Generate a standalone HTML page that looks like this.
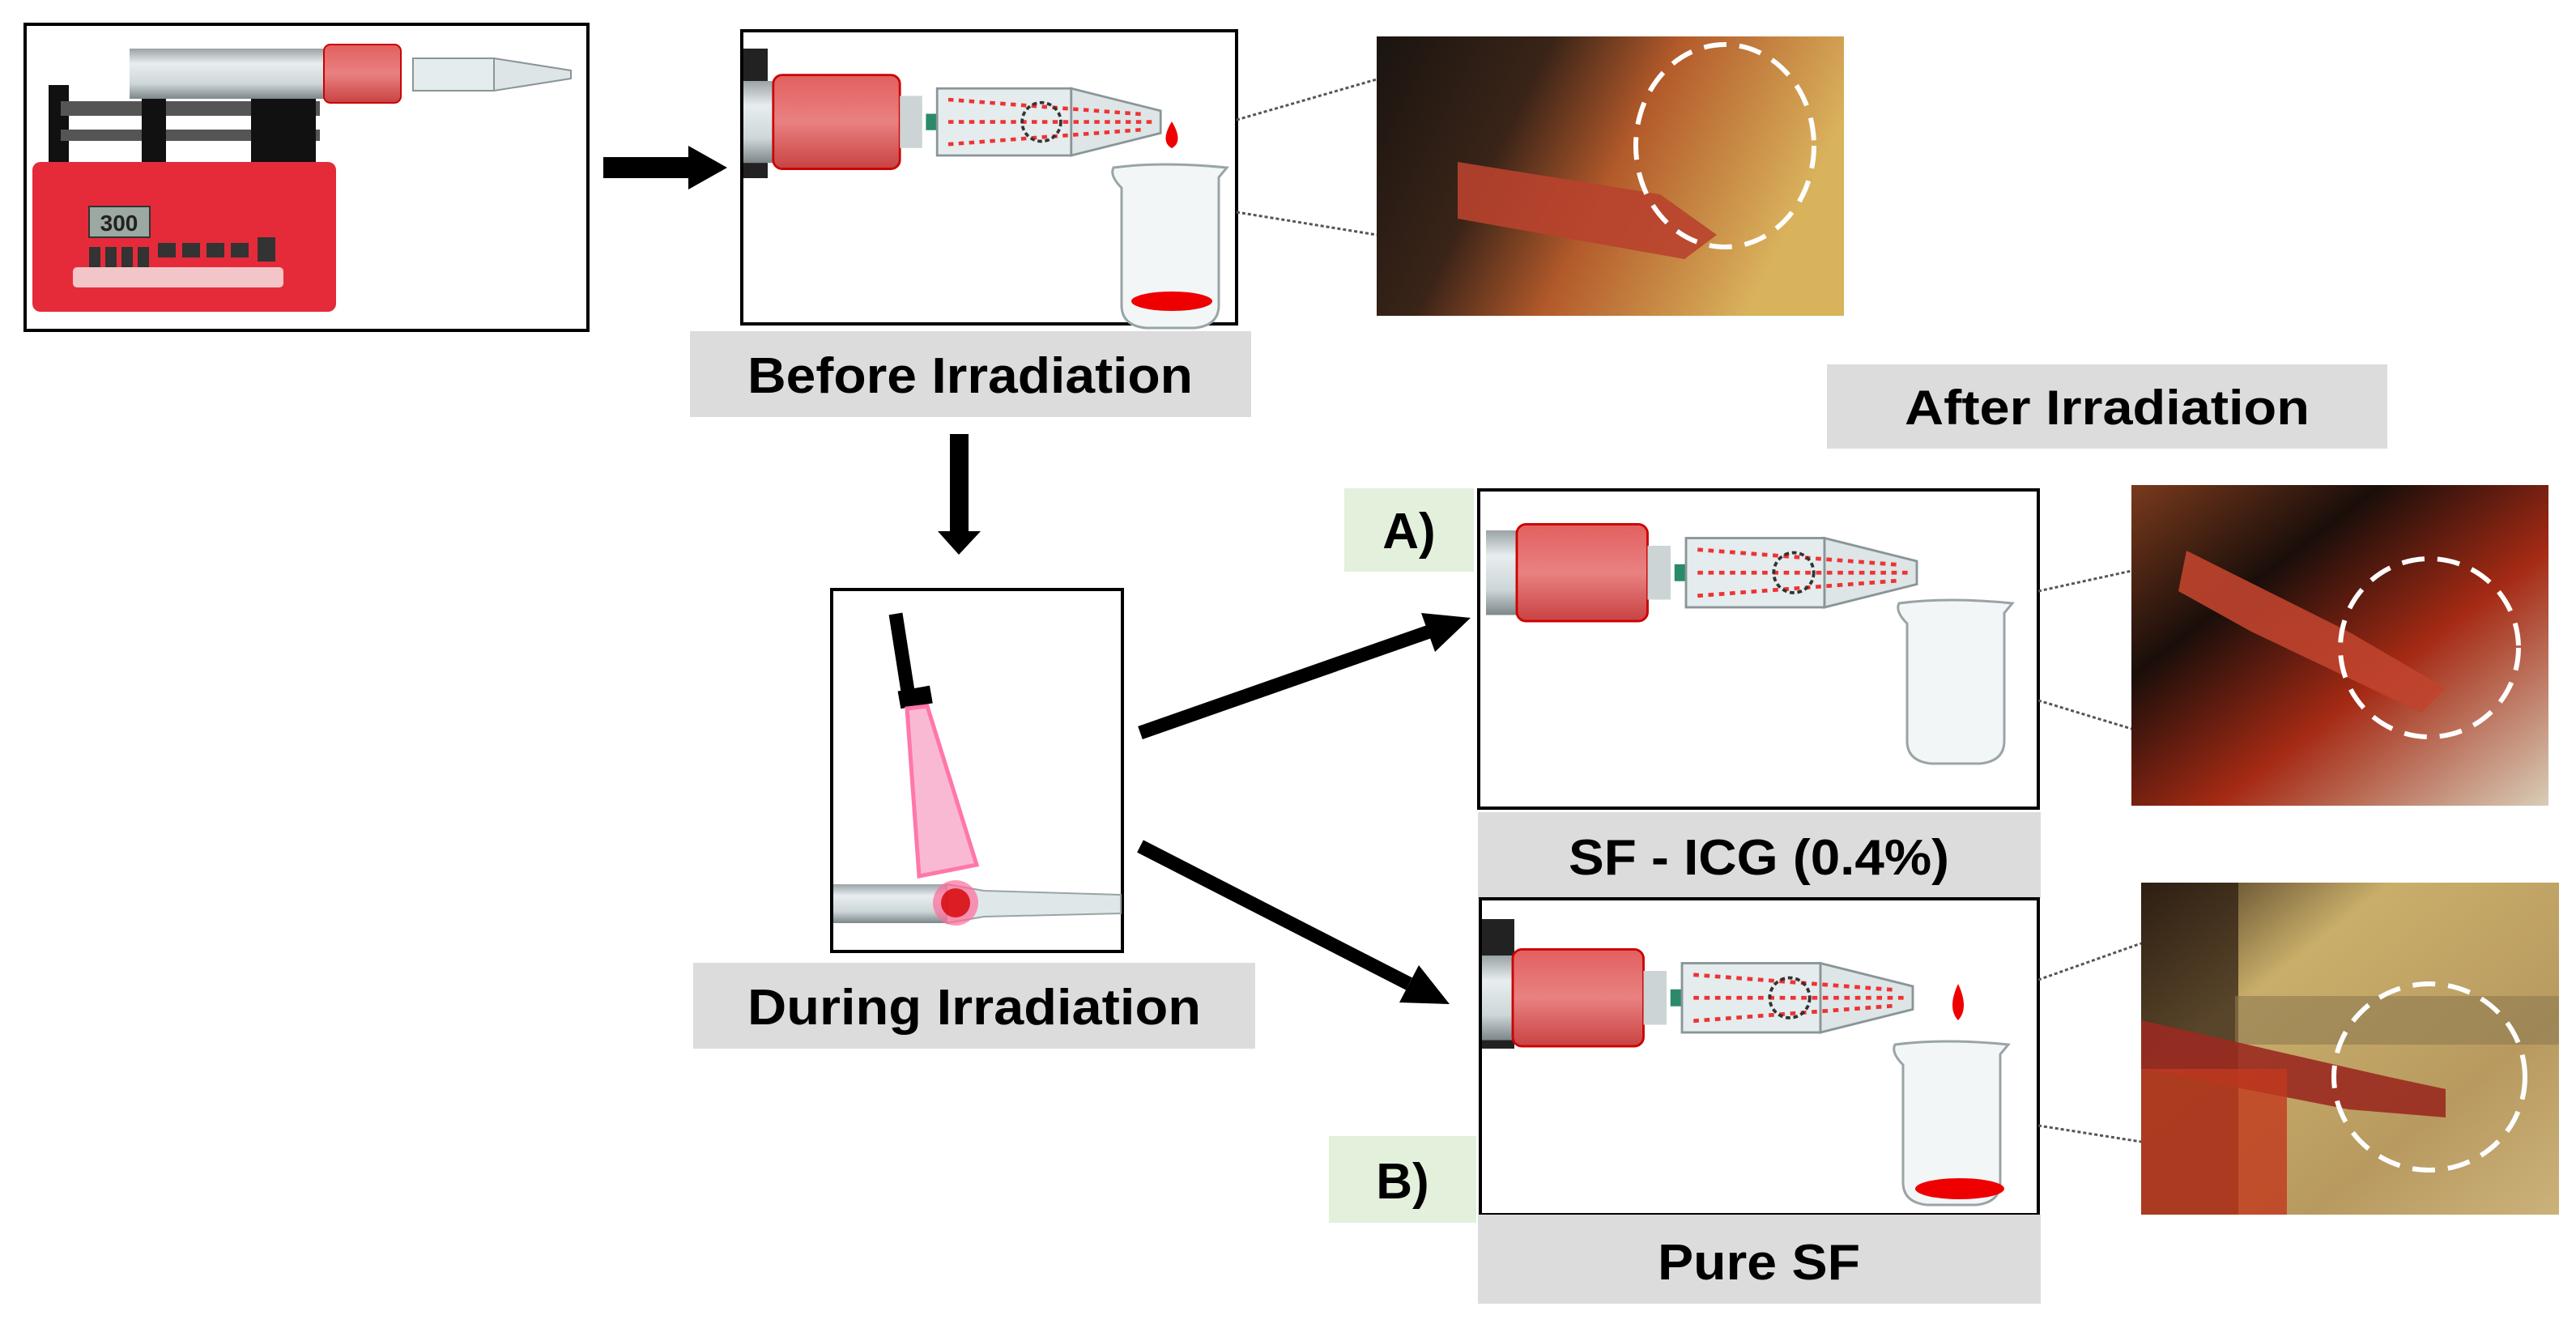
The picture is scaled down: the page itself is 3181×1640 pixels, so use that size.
<!DOCTYPE html>
<html><head><meta charset="utf-8"><style>
html,body{margin:0;padding:0;background:#fff;}
svg{display:block;}
text{font-family:"Liberation Sans",Arial,sans-serif;font-weight:bold;}
</style></head><body>
<svg width="3181" height="1640" viewBox="0 0 3181 1640" xmlns="http://www.w3.org/2000/svg">
<defs>
<linearGradient id="glass" x1="0" y1="0" x2="0" y2="1"><stop offset="0" stop-color="#9aa3a6"/><stop offset="0.3" stop-color="#e8eef0"/><stop offset="0.7" stop-color="#cdd6d8"/><stop offset="1" stop-color="#7d878a"/></linearGradient>
<linearGradient id="red" x1="0" y1="0" x2="0" y2="1"><stop offset="0" stop-color="#e2605f"/><stop offset="0.5" stop-color="#e98181"/><stop offset="1" stop-color="#c94242"/></linearGradient>
<linearGradient id="p1" x1="0" y1="0" x2="1" y2="0.3"><stop offset="0" stop-color="#1a1410"/><stop offset="0.35" stop-color="#3a2418"/><stop offset="0.6" stop-color="#b35a2a"/><stop offset="1" stop-color="#d9b25c"/></linearGradient>
<linearGradient id="p2" x1="0" y1="0" x2="1" y2="1"><stop offset="0" stop-color="#7a3a1c"/><stop offset="0.3" stop-color="#1a0e0a"/><stop offset="0.6" stop-color="#a52a14"/><stop offset="1" stop-color="#d8cdb8"/></linearGradient>
<linearGradient id="p3" x1="0" y1="0" x2="1" y2="1"><stop offset="0" stop-color="#3a2a18"/><stop offset="0.3" stop-color="#c9ae6a"/><stop offset="0.7" stop-color="#b89a60"/><stop offset="1" stop-color="#cbb27a"/></linearGradient>
<g id="syr">
  <rect x="0" y="0" width="150" height="110" fill="url(#glass)"/>
  <rect x="40" y="-8" width="170" height="126" rx="12" fill="url(#red)" stroke="#c00" stroke-width="3"/>
  <rect x="210" y="20" width="30" height="70" fill="#ccd4d6"/>
  <rect x="245" y="44" width="30" height="22" fill="#2a8a6a"/>
  <rect x="260" y="10" width="180" height="90" fill="#e4ecee" stroke="#8a9598" stroke-width="3"/>
  <path d="M440 10 L560 40 L560 70 L440 100 Z" fill="#dde5e7" stroke="#8a9598" stroke-width="3"/>
  <g stroke="#e33" stroke-width="5" stroke-dasharray="7,7"><line x1="275" y1="25" x2="540" y2="45"/><line x1="275" y1="55" x2="555" y2="55"/><line x1="275" y1="85" x2="540" y2="65"/></g>
  <circle cx="400" cy="55" r="26" fill="none" stroke="#333" stroke-width="4" stroke-dasharray="6,4"/>
</g>
<g id="beaker">
  <path d="M0 0 Q60 -8 140 0 L130 12 L130 170 Q130 195 100 198 L40 198 Q10 195 10 170 L10 25 Q-5 10 0 0 Z" fill="#f2f6f7" stroke="#9aa4a6" stroke-width="3"/>
</g>
</defs>

<!-- Box 1: syringe pump -->
<rect x="31" y="30" width="695" height="378" fill="#fff" stroke="#000" stroke-width="4"/>
<rect x="60" y="105" width="25" height="95" fill="#111"/>
<rect x="75" y="125" width="320" height="18" fill="#555"/>
<rect x="75" y="160" width="320" height="14" fill="#555"/>
<rect x="175" y="120" width="30" height="85" fill="#111"/>
<rect x="310" y="115" width="80" height="95" fill="#111"/>
<g transform="translate(160,60)"><rect x="0" y="0" width="240" height="62" fill="url(#glass)"/><rect x="240" y="-5" width="95" height="72" rx="8" fill="url(#red)" stroke="#c00" stroke-width="2"/><rect x="350" y="12" width="100" height="40" fill="#e4ecee" stroke="#8a9598" stroke-width="2"/><path d="M450 12 L545 27 L545 37 L450 52 Z" fill="#dde5e7" stroke="#8a9598" stroke-width="2"/></g>
<rect x="40" y="200" width="375" height="185" rx="10" fill="#e52b3a"/>
<rect x="110" y="255" width="75" height="38" fill="#9ca8a2" stroke="#333" stroke-width="2"/>
<text x="147" y="285" font-size="28" text-anchor="middle" fill="#222">300</text>
<g fill="#333"><rect x="110" y="305" width="14" height="30"/><rect x="130" y="305" width="14" height="30"/><rect x="150" y="305" width="14" height="30"/><rect x="170" y="305" width="14" height="30"/><rect x="195" y="300" width="22" height="18"/><rect x="225" y="300" width="22" height="18"/><rect x="255" y="300" width="22" height="18"/><rect x="285" y="300" width="22" height="18"/><rect x="318" y="293" width="22" height="30"/></g>
<rect x="90" y="330" width="260" height="25" rx="5" fill="#f3c5c8"/>

<!-- arrow right -->
<rect x="745" y="194" width="110" height="26" fill="#000"/>
<polygon points="850,180 898,207 850,234" fill="#000"/>

<!-- Box 2 -->
<rect x="916" y="38" width="611" height="362" fill="#fff" stroke="#000" stroke-width="4"/>
<rect x="918" y="60" width="30" height="160" fill="#222"/>
<use href="#syr" transform="translate(918,100) scale(0.92)"/>
<path d="M1447 150 Q1462 175 1447 183 Q1432 175 1447 150 Z" fill="#e00"/>
<use href="#beaker" transform="translate(1375,207)"/>
<ellipse cx="1447" cy="372" rx="50" ry="12" fill="#e00"/>
<rect x="852" y="409" width="693" height="106" fill="#dcdcdc"/>
<text x="1198" y="485" font-size="62" text-anchor="middle" textLength="550" lengthAdjust="spacingAndGlyphs">Before Irradiation</text>

<line x1="1527" y1="148" x2="1700" y2="98" stroke="#555" stroke-width="3" stroke-dasharray="4,3"/>
<line x1="1527" y1="262" x2="1700" y2="290" stroke="#555" stroke-width="3" stroke-dasharray="4,3"/>
<rect x="1700" y="45" width="577" height="345" fill="url(#p1)"/>
<path d="M1800 200 L2050 240 L2120 290 L2080 320 L1800 270 Z" fill="#b8432e" opacity="0.9"/>
<ellipse cx="2130" cy="180" rx="110" ry="125" fill="none" stroke="#fff" stroke-width="6" stroke-dasharray="28,16"/>

<rect x="1173" y="536" width="23" height="122" fill="#000"/>
<polygon points="1158,656 1211,656 1184,685" fill="#000"/>

<!-- During box -->
<rect x="1027" y="728" width="359" height="447" fill="#fff" stroke="#000" stroke-width="4"/>
<line x1="1106" y1="758" x2="1122" y2="860" stroke="#000" stroke-width="17"/>
<rect x="1110" y="850" width="40" height="22" fill="#000" transform="rotate(-10 1130 860)"/>
<polygon points="1120,875 1145,872 1206,1068 1135,1082" fill="#f9b9d2" stroke="#ff77aa" stroke-width="5"/>
<rect x="1029" y="1092" width="140" height="48" fill="url(#glass)"/>
<path d="M1169 1092 L1215 1100 L1384 1105 L1384 1128 L1215 1132 L1169 1140 Z" fill="#dfe8e9" stroke="#9aa4a6" stroke-width="2"/>
<circle cx="1180" cy="1115" r="28" fill="#ff6b9a" opacity="0.7"/>
<circle cx="1180" cy="1115" r="18" fill="#d40000" opacity="0.8"/>
<rect x="856" y="1189" width="694" height="106" fill="#dcdcdc"/>
<text x="1203" y="1265" font-size="62" text-anchor="middle" textLength="560" lengthAdjust="spacingAndGlyphs">During Irradiation</text>

<line x1="1408" y1="905" x2="1765" y2="780" stroke="#000" stroke-width="17"/>
<polygon points="1816,763 1755,757 1772,805" fill="#000"/>
<line x1="1408" y1="1045" x2="1740" y2="1215" stroke="#000" stroke-width="17"/>
<polygon points="1790,1240 1752,1192 1728,1238" fill="#000"/>

<rect x="2256" y="450" width="692" height="104" fill="#dcdcdc"/>
<text x="2602" y="524" font-size="60" text-anchor="middle" textLength="500" lengthAdjust="spacingAndGlyphs">After Irradiation</text>

<rect x="1660" y="603" width="160" height="103" fill="#e2f0dc"/>
<text x="1740" y="677" font-size="62" text-anchor="middle">A)</text>
<rect x="1826" y="605" width="691" height="393" fill="#fff" stroke="#000" stroke-width="4"/>
<use href="#syr" transform="translate(1835,655) scale(0.95)"/>
<use href="#beaker" transform="translate(2345,745)"/>
<rect x="1825" y="1003" width="695" height="107" fill="#dcdcdc"/>
<text x="2172" y="1080" font-size="62" text-anchor="middle" textLength="470" lengthAdjust="spacingAndGlyphs">SF - ICG (0.4%)</text>
<line x1="2517" y1="730" x2="2632" y2="705" stroke="#555" stroke-width="3" stroke-dasharray="4,3"/>
<line x1="2517" y1="865" x2="2632" y2="900" stroke="#555" stroke-width="3" stroke-dasharray="4,3"/>
<rect x="2632" y="599" width="515" height="396" fill="url(#p2)"/>
<path d="M2700 680 L2900 780 L3020 850 L2990 880 L2780 780 L2690 730 Z" fill="#c0442e" opacity="0.9"/>
<ellipse cx="3000" cy="800" rx="110" ry="110" fill="none" stroke="#fff" stroke-width="6" stroke-dasharray="28,16"/>

<rect x="1828" y="1110" width="689" height="390" fill="#fff" stroke="#000" stroke-width="4"/>
<rect x="1830" y="1135" width="40" height="160" fill="#222"/>
<use href="#syr" transform="translate(1830,1180) scale(0.95)"/>
<path d="M2418 1215 Q2432 1245 2418 1260 Q2404 1245 2418 1215 Z" fill="#e00"/>
<use href="#beaker" transform="translate(2340,1290)"/>
<ellipse cx="2420" cy="1468" rx="55" ry="13" fill="#e00"/>
<rect x="1641" y="1403" width="182" height="107" fill="#e2f0dc"/>
<text x="1732" y="1480" font-size="62" text-anchor="middle">B)</text>
<rect x="1825" y="1500" width="695" height="110" fill="#dcdcdc"/>
<text x="2172" y="1580" font-size="62" text-anchor="middle" textLength="250" lengthAdjust="spacingAndGlyphs">Pure SF</text>
<line x1="2517" y1="1210" x2="2644" y2="1165" stroke="#555" stroke-width="3" stroke-dasharray="4,3"/>
<line x1="2517" y1="1390" x2="2644" y2="1410" stroke="#555" stroke-width="3" stroke-dasharray="4,3"/>
<rect x="2644" y="1090" width="516" height="410" fill="url(#p3)"/>
<rect x="2644" y="1090" width="120" height="410" fill="#2a1a10" opacity="0.7"/>
<rect x="2760" y="1230" width="400" height="60" fill="#8d7a50" opacity="0.6"/>
<path d="M2644 1260 L2950 1330 L3020 1345 L3020 1380 L2900 1370 L2644 1320 Z" fill="#9a2a20" opacity="0.9"/>
<rect x="2644" y="1320" width="180" height="180" fill="#c0391e" opacity="0.8"/>
<ellipse cx="3000" cy="1330" rx="118" ry="115" fill="none" stroke="#fff" stroke-width="6" stroke-dasharray="28,16"/>
</svg>
</body></html>
